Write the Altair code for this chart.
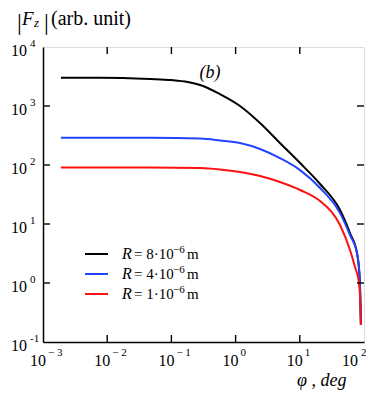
import altair as alt
import pandas as pd

# ---- data ----
phi_black = [0.0019, 0.0077, 0.0465, 0.1, 0.18, 0.28, 0.57, 1.17, 2.4, 4.9, 10.1, 20.7, 42.3, 60.5, 77.8, 86.0, 88.5, 89.5]
F_black = [3020, 3020, 2870, 2750, 2550, 2270, 1590, 1000, 515, 236, 108, 47.6, 17.3, 7.03, 3.22, 1.12, 0.348, 0.194]

phi_blue = [0.0019, 0.0465, 0.28, 0.57, 1.17, 2.4, 4.9, 10.1, 20.7, 42.3, 60.5, 77.8, 86.0, 88.5, 89.5]
F_blue = [290, 290, 281, 261, 236, 187, 131, 82, 40.7, 15.3, 6.51, 3.22, 1.12, 0.348, 0.194]

phi_red = [0.0019, 0.0465, 0.28, 0.57, 1.17, 2.4, 4.9, 10.1, 20.7, 42.3, 60.5, 72.4, 83.0, 88.0, 89.5]
F_red = [90.8, 90.8, 88.9, 84, 76, 65.1, 51.5, 37.7, 24.5, 9.6, 3.62, 1.87, 1.04, 0.42, 0.194]

series_names = ["R8", "R4", "R1"]
series_colors = ["#000000", "#2244ff", "#ff1010"]
legend_mantissa = ["= 8·10", "= 4·10", "= 1·10"]
legend_exp = "−6"

x_ticks = [0.001, 0.01, 0.1, 1, 10, 100]
x_exps = ["− 3", "− 2", "− 1", "0", "1", "2"]
y_ticks = [0.1, 1, 10, 100, 1000, 10000]
y_exps = ["-1", "0", "1", "2", "3", "4"]

rows = []
for name, xs, ys in zip(series_names, [phi_black, phi_blue, phi_red], [F_black, F_blue, F_red]):
    for p, f in zip(xs, ys):
        rows.append({"phi": p, "F": f, "series": name})
df = pd.DataFrame(rows)

W, H = 321, 295
FONT = "Liberation Serif, Times New Roman, serif"

xscale = alt.Scale(type="log", domain=[0.001, 100], nice=False)
yscale = alt.Scale(type="log", domain=[0.1, 10000], nice=False)

lines = alt.Chart(df).mark_line(strokeWidth=2, interpolate="monotone").encode(
    x=alt.X("phi:Q", scale=xscale,
            axis=alt.Axis(values=x_ticks, labels=False, ticks=False, grid=False, title=None,
                          domainColor="black", domainWidth=1.5)),
    y=alt.Y("F:Q", scale=yscale,
            axis=alt.Axis(values=y_ticks, labels=False, ticks=False, grid=False, title=None,
                          domainColor="black", domainWidth=1.5)),
    color=alt.Color("series:N", scale=alt.Scale(domain=series_names, range=series_colors), legend=None),
    detail="series:N",
)

# inward ticks on all four sides
xt = pd.DataFrame({"v": x_ticks[1:-1]})
yt = pd.DataFrame({"v": y_ticks[1:-1]})
tick_x_bottom = alt.Chart(xt).mark_rule(color="black", strokeWidth=1.4).encode(
    x=alt.X("v:Q", scale=xscale), y=alt.value(H), y2=alt.value(H - 7))
tick_x_top = alt.Chart(xt).mark_rule(color="black", strokeWidth=1.4).encode(
    x=alt.X("v:Q", scale=xscale), y=alt.value(0), y2=alt.value(7))
tick_y_left = alt.Chart(yt).mark_rule(color="black", strokeWidth=1.4).encode(
    y=alt.Y("v:Q", scale=yscale), x=alt.value(0), x2=alt.value(7))
tick_y_right = alt.Chart(yt).mark_rule(color="black", strokeWidth=1.4).encode(
    y=alt.Y("v:Q", scale=yscale), x=alt.value(W), x2=alt.value(W - 7))

# tick labels: "10" with raised exponent
xl = pd.DataFrame({"v": x_ticks, "e": x_exps})
yl = pd.DataFrame({"v": y_ticks, "e": y_exps})
xl_main = xl.iloc[:-1]
xl_last = xl.iloc[-1:]

def xlab(d, dx10, dxe):
    base = alt.Chart(d).mark_text(text="10", font=FONT, fontSize=16, align="right",
                                  baseline="alphabetic", dx=dx10, color="black").encode(
        x=alt.X("v:Q", scale=xscale), y=alt.value(H + 24))
    ex = alt.Chart(d).mark_text(font=FONT, fontSize=11, align="left",
                                baseline="alphabetic", dx=dxe, color="black").encode(
        x=alt.X("v:Q", scale=xscale), y=alt.value(H + 14), text="e:N")
    return [base, ex]

ylab_base = alt.Chart(yl).mark_text(text="10", font=FONT, fontSize=16, align="right",
                                    baseline="alphabetic", dy=9, color="black").encode(
    y=alt.Y("v:Q", scale=yscale), x=alt.value(-16))
ylab_exp = alt.Chart(yl).mark_text(font=FONT, fontSize=11, align="left",
                                   baseline="alphabetic", dy=0, color="black").encode(
    y=alt.Y("v:Q", scale=yscale), x=alt.value(-13), text="e:N")

one = pd.DataFrame({"a": [0]})

def txt(s, x, y, size, italic=False, baseline="alphabetic", align="left"):
    return alt.Chart(one).mark_text(
        text=s, font=FONT, fontSize=size, fontStyle="italic" if italic else "normal",
        align=align, baseline=baseline, color="black"
    ).encode(x=alt.value(x), y=alt.value(y))

labels = [
    txt("|", -26, -24, 24, baseline="middle"),
    txt("F", -21, -22, 19, italic=True),
    txt("z", -9, -20, 13, italic=True),
    txt("|", 1, -24, 24, baseline="middle"),
    txt("(arb. unit)", 8, -22, 20),
    txt("(b)", 167, 26, 18, italic=True, baseline="middle", align="center"),
    txt("φ , deg", 254, 339, 18, italic=True),
]

legend = []
for i, (c, mant) in enumerate(zip(series_colors, legend_mantissa)):
    yy = 207 + i * 20
    legend.append(alt.Chart(one).mark_rule(color=c, strokeWidth=2).encode(
        x=alt.value(42), x2=alt.value(65), y=alt.value(yy)))
    legend.append(txt("R", 79, yy + 5, 16, italic=True))
    legend.append(txt(mant, 91, yy + 5, 15))
    legend.append(txt(legend_exp, 130, yy - 1, 11))
    legend.append(txt("m", 144, yy + 5, 15))

chart = alt.layer(
    lines, tick_x_bottom, tick_x_top, tick_y_left, tick_y_right,
    *xlab(xl_main, 3, 5), *xlab(xl_last, -6, -3), ylab_base, ylab_exp,
    *labels, *legend
).properties(
    width=W, height=H,
    autosize=alt.AutoSizeParams(type="none"),
    padding={"left": 35, "top": 39, "right": 2, "bottom": 48},
).configure_view(stroke="black", strokeWidth=1.5).configure(background="white")

chart.save("out.html", embed_options={"renderer": "svg", "actions": False})
